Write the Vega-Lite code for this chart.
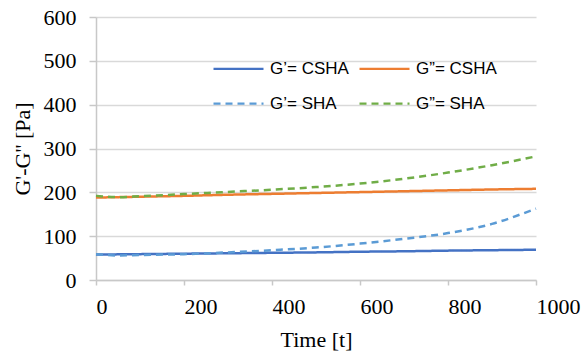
{
  "$schema": "https://vega.github.io/schema/vega-lite/v6.json",
  "width": 440,
  "height": 263,
  "autosize": "none",
  "padding": {"left": 96, "top": 17, "right": 46, "bottom": 80},
  "background": "white",
  "config": {"view": {"stroke": null}},
  "data": {"values": [
    {"t": 0, "v": 58, "s": "G’= CSHA"}, {"t": 100, "v": 59, "s": "G’= CSHA"}, {"t": 200, "v": 60, "s": "G’= CSHA"}, {"t": 300, "v": 61, "s": "G’= CSHA"}, {"t": 400, "v": 62, "s": "G’= CSHA"}, {"t": 500, "v": 63, "s": "G’= CSHA"}, {"t": 600, "v": 64.5, "s": "G’= CSHA"}, {"t": 700, "v": 65.5, "s": "G’= CSHA"}, {"t": 800, "v": 67, "s": "G’= CSHA"}, {"t": 900, "v": 68, "s": "G’= CSHA"}, {"t": 1000, "v": 69, "s": "G’= CSHA"},
    {"t": 0, "v": 188, "s": "G”= CSHA"}, {"t": 100, "v": 190, "s": "G”= CSHA"}, {"t": 200, "v": 192, "s": "G”= CSHA"}, {"t": 300, "v": 194.5, "s": "G”= CSHA"}, {"t": 400, "v": 196.5, "s": "G”= CSHA"}, {"t": 500, "v": 198.5, "s": "G”= CSHA"}, {"t": 600, "v": 200.5, "s": "G”= CSHA"}, {"t": 700, "v": 202.5, "s": "G”= CSHA"}, {"t": 800, "v": 204.5, "s": "G”= CSHA"}, {"t": 900, "v": 206.5, "s": "G”= CSHA"}, {"t": 1000, "v": 208, "s": "G”= CSHA"},
    {"t": 0, "v": 59, "s": "G’= SHA"}, {"t": 50, "v": 56, "s": "G’= SHA"}, {"t": 100, "v": 57, "s": "G’= SHA"}, {"t": 200, "v": 59, "s": "G’= SHA"}, {"t": 300, "v": 63, "s": "G’= SHA"}, {"t": 400, "v": 68, "s": "G’= SHA"}, {"t": 500, "v": 74, "s": "G’= SHA"}, {"t": 600, "v": 83, "s": "G’= SHA"}, {"t": 700, "v": 94, "s": "G’= SHA"}, {"t": 800, "v": 107, "s": "G’= SHA"}, {"t": 900, "v": 128, "s": "G’= SHA"}, {"t": 1000, "v": 163, "s": "G’= SHA"},
    {"t": 0, "v": 192, "s": "G”= SHA"}, {"t": 50, "v": 189, "s": "G”= SHA"}, {"t": 100, "v": 191, "s": "G”= SHA"}, {"t": 200, "v": 196, "s": "G”= SHA"}, {"t": 300, "v": 201, "s": "G”= SHA"}, {"t": 400, "v": 206, "s": "G”= SHA"}, {"t": 500, "v": 212, "s": "G”= SHA"}, {"t": 600, "v": 220, "s": "G”= SHA"}, {"t": 700, "v": 231, "s": "G”= SHA"}, {"t": 800, "v": 245, "s": "G”= SHA"}, {"t": 900, "v": 262, "s": "G”= SHA"}, {"t": 1000, "v": 282, "s": "G”= SHA"}
  ]},
  "mark": {"type": "line", "strokeWidth": 2.5, "interpolate": "monotone"},
  "encoding": {
    "x": {"field": "t", "type": "quantitative",
      "scale": {"domain": [0, 1000], "nice": false},
      "axis": {"values": [0, 200, 400, 600, 800, 1000], "format": "d", "title": "Time [t]", "grid": false,
        "labelFont": "Liberation Serif", "labelFontSize": 22, "labelColor": "#000", "labelPadding": 11, "labelAlign": "left", "labelFlush": false,
        "titleFont": "Liberation Serif", "titleFontSize": 22, "titleFontWeight": "normal", "titleColor": "#000", "titlePadding": 12,
        "domainColor": "#c8c8c8", "domainWidth": 1.5, "tickColor": "#c8c8c8", "tickSize": 5, "tickWidth": 1.5}},
    "y": {"field": "v", "type": "quantitative",
      "scale": {"domain": [0, 600], "nice": false},
      "axis": {"values": [0, 100, 200, 300, 400, 500, 600], "title": "G'-G'' [Pa]",
        "grid": true, "gridColor": "#d9d9d9", "gridWidth": 1.5, "tickColor": "#c8c8c8", "tickSize": 7, "tickWidth": 1.5,
        "labelFont": "Liberation Serif", "labelFontSize": 22, "labelColor": "#000", "labelPadding": 13,
        "titleFont": "Liberation Serif", "titleFontSize": 22, "titleFontWeight": "normal", "titleColor": "#000", "titlePadding": 9,
        "domainColor": "#c8c8c8", "domainWidth": 1.5}},
    "color": {"field": "s", "type": "nominal",
      "scale": {"domain": ["G’= CSHA", "G’= SHA", "G”= CSHA", "G”= SHA"], "range": ["#4472C4", "#5B9BD5", "#ED7D31", "#70AD47"]},
      "legend": {"title": null, "orient": "none", "legendX": 116, "legendY": 25, "columns": 2, "columnPadding": 6, "rowPadding": -6,
        "symbolType": "stroke", "symbolSize": 2500, "symbolStrokeWidth": 2.25, "labelFont": "Liberation Sans", "labelFontSize": 17, "labelColor": "#000", "labelOffset": 5}},
    "strokeDash": {"field": "s", "type": "nominal",
      "scale": {"domain": ["G’= CSHA", "G’= SHA", "G”= CSHA", "G”= SHA"], "range": [[1, 0], [7, 5], [1, 0], [7, 5]]},
      "legend": null}
  }
}
